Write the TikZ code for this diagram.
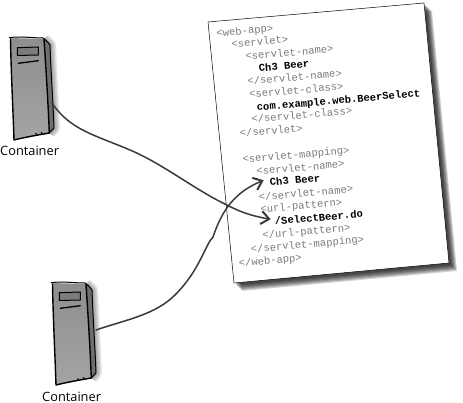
\documentclass[tikz,border=0pt]{standalone}
\usepackage{fontspec}
\setmonofont{Liberation Mono}
\setsansfont{Open Sans}
\usetikzlibrary{arrows.meta}
\definecolor{ink}{HTML}{3A3A3A}
\definecolor{tagtext}{HTML}{7A7A7A}
\definecolor{facetop}{HTML}{8E8E8E}
\definecolor{facemid}{HTML}{ADADAD}
\definecolor{facelow}{HTML}{A4A4A4}
\definecolor{sideface}{HTML}{6E6E6E}
\definecolor{panel}{HTML}{7C7C7C}
\tikzset{
  tagline/.style={anchor=base west,rotate=5,inner sep=0pt,text=tagtext,font=\ttfamily\fontsize{10.5}{12}\selectfont},
  valueline/.style={anchor=base west,rotate=5,inner sep=0pt,text=black,font=\ttfamily\bfseries\fontsize{10.5}{12}\selectfont},
  caption/.style={anchor=base west,inner sep=0pt,text=black,font=\sffamily\fontsize{12.8}{14}\selectfont},
  sketch/.style={draw=black,line width=1pt,line join=round,line cap=round},
  wire/.style={draw=ink,line width=1.5pt,line cap=round},
  wirehead/.style={wire,-{Straight Barb[length=8pt,width=13pt,line width=2pt]}},
  server/.pic={
    % soft halo behind the cabinet
    \foreach \g in {12,9,6,3}{
      \draw[black,opacity=.1,line width=\g pt,line join=round]
        (44,39) -- (50,45) -- (54,128) -- (49.5,133);
    }
    \fill[sideface] (44,39) -- (50,45) -- (54,128) -- (49.3,133) -- cycle;
    \shade[top color=facetop,middle color=facemid,bottom color=facelow]
      (10,38) -- (44,39) -- (49.3,133) -- (14,140) -- cycle;
    \draw[sketch] (9.3,37.7) .. controls (20,36) and (32,38) .. (43,38)
      .. controls (47,41) and (49,43) .. (50,45)
      .. controls (51,75) and (53,100) .. (54,128) -- (49.3,133);
    \draw[sketch,line width=1.4pt] (10.5,39) .. controls (11,70) and (13,110) .. (14,140)
      .. controls (26,137) and (38,135) .. (49.3,133)
      .. controls (48,100) and (46,70) .. (44,39);
    \fill[panel] (17.3,47.7) -- (38.3,47) -- (38.3,55) -- (17.3,55.5) -- cycle;
    \draw[sketch] (17.3,47.7) -- (38.3,47) -- (38.3,55) -- (17.3,55.5) -- cycle;
    \draw[sketch,line width=1.3pt] (18.3,63.3) -- (38.3,60.7);
    \fill[black] (36,134) circle (1pt) (41.7,133) circle (1pt);
  }
}
\begin{document}
\begin{tikzpicture}[x=1pt,y=-1pt]
  \useasboundingbox (0,0) rectangle (463,403);
  \fill[white] (0,0) rectangle (463,403);

  % sheet shadow, built from stacked translucent copies
  \foreach \s in {8,7,6,5,4,3,2}{
    \fill[black,opacity=.17] (424+\s,3+\s) -- (449+\s,263+\s) -- (234+\s,283+\s) -- (208+\s,22+\s) -- cycle;
  }
  \draw[fill=white,draw=black,line width=.5pt] (208,22) -- (424,3) -- (449,263) -- (234,283) -- cycle;

  % deployment descriptor
  \node[tagline]   (t01) at (216.7,36.7) {<web-app>};
  \node[tagline]   (t02) at (231.7,47.7) {<servlet>};
  \node[tagline]   (t03) at (245.7,60)   {<servlet-name>};
  \node[valueline] (t04) at (259,71.7)   {Ch3 Beer};
  \node[tagline]   (t05) at (247.7,85)   {</servlet-name>};
  \node[tagline]   (t06) at (249.3,98)   {<servlet-class>};
  \node[valueline] (t07) at (257,111)    {com.example.web.BeerSelect};
  \node[tagline]   (t08) at (251.7,123)  {</servlet-class>};
  \node[tagline]   (t09) at (240,137)    {</servlet>};
  \node[tagline]   (t10) at (242.7,163)  {<servlet-mapping>};
  \node[tagline]   (t11) at (256.7,175)  {<servlet-name>};
  \node[valueline] (nameval) at (270,186) {Ch3 Beer};
  \node[tagline]   (t13) at (259,200.7)  {</servlet-name>};
  \node[tagline]   (t14) at (260.7,212.7) {<url-pattern>};
  \node[valueline] (urlval) at (275,225) {/SelectBeer.do};
  \node[tagline]   (t16) at (262.7,238.7) {</url-pattern>};
  \node[tagline]   (t17) at (251,252.7)  {</servlet-mapping>};
  \node[tagline]   (t18) at (239,266.7)  {</web-app>};

  % two containers
  \pic (upper) at (0,0) {server};
  \pic (lower) at (42,245) {server};
  \node[caption] (capA) at (0,155.7) {Container};
  \node[caption] (capB) at (42,401) {Container};

  % connector ends
  \coordinate (upperport) at (52,103);
  \coordinate (lowerport) at (96,330);
  \coordinate (nametip) at ([shift={(-6,-2)}]nameval.west);
  \coordinate (urltip) at ([shift={(-4,-2)}]urlval.west);

  \draw[wirehead] (upperport) .. controls (70,130) and (95,135) .. (130,150)
    .. controls (165,165) and (195,190) .. (227,205)
    .. controls (240,212) and (252,216) .. (urltip);
  \draw[wirehead] (lowerport) .. controls (125,320) and (155,315) .. (175,295)
    .. controls (200,270) and (205,245) .. (213,237)
    .. controls (222,210) and (235,192) .. (nametip);
\end{tikzpicture}
\end{document}
